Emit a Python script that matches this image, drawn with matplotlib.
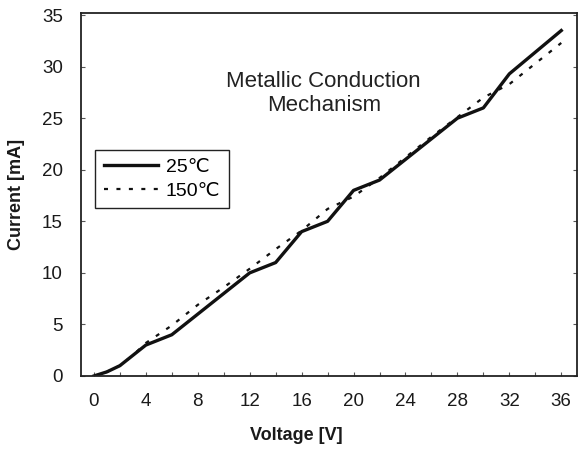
import matplotlib
matplotlib.use("Agg")
import matplotlib.pyplot as plt
from matplotlib.ticker import MultipleLocator

plt.rcParams['font.family'] = ['Liberation Sans', 'DejaVu Sans']

# data
voltage = [0, 1, 2, 3, 4, 6, 8, 10, 12, 14, 16, 18, 20, 22, 24, 26, 28, 30, 32, 34, 36]
current_25 = [0, 0.4, 1.0, 2.0, 3.0, 4.0, 6.0, 8.0, 10.0, 11.0, 14.0, 15.0, 18.0, 19.0,
              21.0, 23.0, 25.0, 26.0, 29.3, 31.4, 33.5]
current_150 = [0, 0.4, 1.0, 2.0, 3.2, 4.9, 6.9, 8.6, 10.4, 12.3, 14.1, 16.2, 17.4, 19.2,
               21.2, 23.2, 25.1, 27.0, 28.3, 30.3, 32.3]

x_ticks = [0, 4, 8, 12, 16, 20, 24, 28, 32, 36]
y_ticks = [0, 5, 10, 15, 20, 25, 30, 35]

fig = plt.figure(figsize=(5.78, 4.49), dpi=100)
ax = fig.add_axes([0.14, 0.1626, 0.858, 0.8084])

ax.plot(voltage, current_25, color='#111111', lw=2.4, label='25\u2103')
ax.plot(voltage, current_150, color='#111111', lw=1.6, linestyle=(0, (1.8, 3.8)), label='150\u2103')

ax.set_xlim(-1, 37.2)
ax.set_ylim(0, 35.2)
ax.set_xticks(x_ticks)
ax.set_yticks(y_ticks)
ax.xaxis.set_minor_locator(MultipleLocator(2))

ax.tick_params(axis='both', which='both', direction='in', top=False, right=True,
               length=3, width=0.8, colors='#555555', labelcolor='#1a1a1a', labelsize=13.5)
ax.tick_params(axis='x', pad=12.5)
ax.tick_params(axis='y', pad=13)

for s in ax.spines.values():
    s.set_linewidth(1.3)
    s.set_color('#222222')

ax.set_xlabel('Voltage [V]', fontsize=13, fontweight='bold', color='#1a1a1a')
ax.xaxis.set_label_coords(0.435, -0.14)
ax.set_ylabel('Current [mA]', fontsize=13, fontweight='bold', color='#1a1a1a')
ax.yaxis.set_label_coords(-0.113, 0.5)

ax.text(17.7, 27.4, 'Metallic Conduction\nMechanism', ha='center', va='center',
        fontsize=16, color='#222222', linespacing=1.15)

leg = ax.legend(loc='upper left', bbox_to_anchor=(0.028, 0.623), borderaxespad=0,
                fontsize=14, fancybox=False, framealpha=1, edgecolor='#222222',
                handlelength=2.8, handletextpad=0.4, borderpad=0.45, labelspacing=0.3)
leg.get_frame().set_linewidth(1.0)

fig.savefig('out.png', dpi=100)
